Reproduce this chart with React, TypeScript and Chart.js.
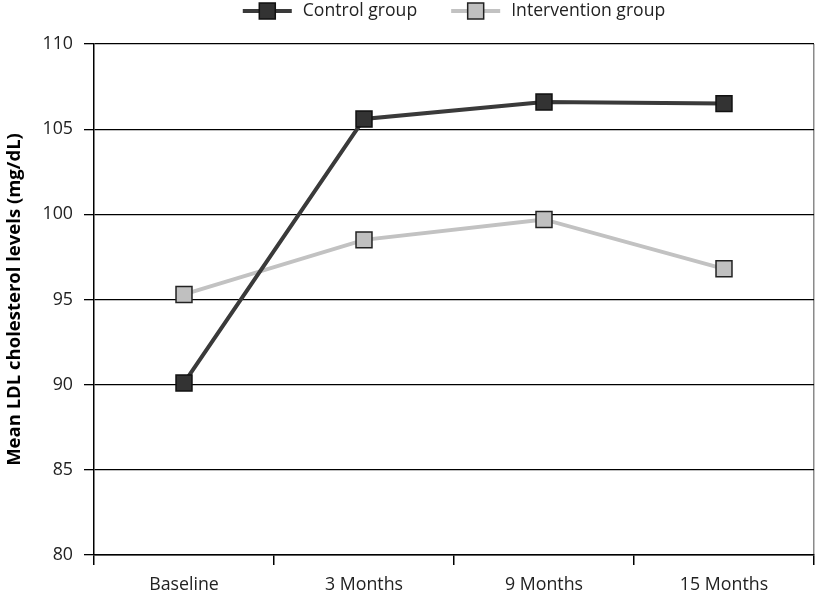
import React, { useEffect, useRef } from "react";
import { Chart, registerables } from "chart.js";

Chart.register(...registerables);

const categories = ["Baseline", "3 Months", "9 Months", "15 Months"];
const controlValues = [90.1, 105.6, 106.6, 106.5];
const interventionValues = [95.3, 98.5, 99.7, 96.8];
const yTicks = [80, 85, 90, 95, 100, 105, 110];
const seriesNames = ["Control group", "Intervention group"];
const yTitle = "Mean LDL cholesterol levels (mg/dL)";

const FONT = "'Open Sans', 'Noto Sans', sans-serif";

const legendPlugin = {
  id: "customLegend",
  afterDraw(chart: any) {
    const ctx = chart.ctx;
    const area = chart.chartArea;
    const lineW = 49;
    const gap = 11;
    const itemGap = 34;
    const y = 11;
    ctx.save();
    ctx.font = `17.6px ${FONT}`;
    const items = chart.data.datasets.map((ds: any) => ({
      ds,
      tw: ctx.measureText(ds.label).width,
    }));
    const total = items.reduce((s: number, it: any) => s + lineW + gap + it.tw, 0) + itemGap * (items.length - 1);
    let x = (area.left + area.right) / 2 - total / 2;
    items.forEach((it: any) => {
      const ds = it.ds;
      ctx.strokeStyle = ds.borderColor;
      ctx.lineWidth = ds.borderWidth;
      ctx.beginPath();
      ctx.moveTo(x, y);
      ctx.lineTo(x + lineW, y);
      ctx.stroke();
      const cx = x + lineW / 2;
      ctx.fillStyle = ds.pointBackgroundColor;
      ctx.strokeStyle = ds.pointBorderColor;
      ctx.lineWidth = ds.pointBorderWidth;
      ctx.fillRect(cx - 8, y - 8, 16, 16);
      ctx.strokeRect(cx - 8, y - 8, 16, 16);
      ctx.fillStyle = "#222";
      ctx.textBaseline = "middle";
      ctx.textAlign = "left";
      ctx.fillText(ds.label, x + lineW + gap, y);
      x += lineW + gap + it.tw + itemGap;
    });
    ctx.restore();
  },
};

export default function App() {
  const ref = useRef<HTMLCanvasElement | null>(null);
  useEffect(() => {
    if (!ref.current) return;
    const chart = new Chart(ref.current, {
      type: "line",
      data: {
        labels: categories,
        datasets: [
          {
            label: seriesNames[0],
            data: controlValues,
            borderColor: "#3a3a3a",
            borderWidth: 4,
            pointStyle: "rect",
            pointRadius: 11.3,
            pointHoverRadius: 11.3,
            pointBackgroundColor: "#333333",
            pointBorderColor: "#111111",
            pointBorderWidth: 1.5,
            tension: 0,
          },
          {
            label: seriesNames[1],
            data: interventionValues,
            borderColor: "#c2c2c2",
            borderWidth: 4,
            pointStyle: "rect",
            pointRadius: 11.3,
            pointHoverRadius: 11.3,
            pointBackgroundColor: "#c0c0c0",
            pointBorderColor: "#222222",
            pointBorderWidth: 1.5,
            tension: 0,
          },
        ],
      },
      options: {
        animation: false,
        responsive: false,
        devicePixelRatio: 1,
        layout: { autoPadding: false, padding: { top: 44, right: 2, left: 0, bottom: 0 } },
        plugins: {
          legend: { display: false },
          tooltip: { enabled: false },
        },
        scales: {
          x: {
            type: "category",
            offset: true,
            grid: {
              offset: true,
              drawOnChartArea: true,
              color: (c: any) => (c.type === "tick" ? "rgba(0,0,0,0)" : "#8a8a8a"),
              tickColor: "#000",
              tickLength: 10,
              lineWidth: 1.5,
            },
            border: { color: "#000", width: 1.5 },
            ticks: {
              color: "#222",
              font: { family: FONT, size: 17.8 },
              padding: 9,
              maxRotation: 0,
            },
            afterFit: (s: any) => {
              s.height = 41;
              s.paddingLeft = 0;
              s.paddingRight = 0;
            },
          },
          y: {
            min: 80,
            max: 110,
            afterBuildTicks: (s: any) => {
              s.ticks = yTicks.map((v) => ({ value: v }));
            },
            grid: {
              color: "#000",
              lineWidth: 1.3,
              tickLength: 10,
            },
            border: { color: "#000", width: 1.5 },
            ticks: {
              color: "#222",
              font: { family: FONT, size: 17.8 },
              padding: 11,
            },
            title: {
              display: true,
              text: yTitle,
              color: "#000",
              font: { family: FONT, size: 18.5, weight: "bold" },
              padding: { top: 4, bottom: 0 },
            },
            afterFit: (s: any) => {
              s.width = 94;
            },
          },
        },
      },
      plugins: [legendPlugin],
    });
    return () => chart.destroy();
  }, []);
  return (
    <div style={{ position: "absolute", left: 0, top: 0, width: 816, height: 596, background: "#fff" }}>
      <canvas ref={ref} width={816} height={596} style={{ display: "block" }} />
    </div>
  );
}
